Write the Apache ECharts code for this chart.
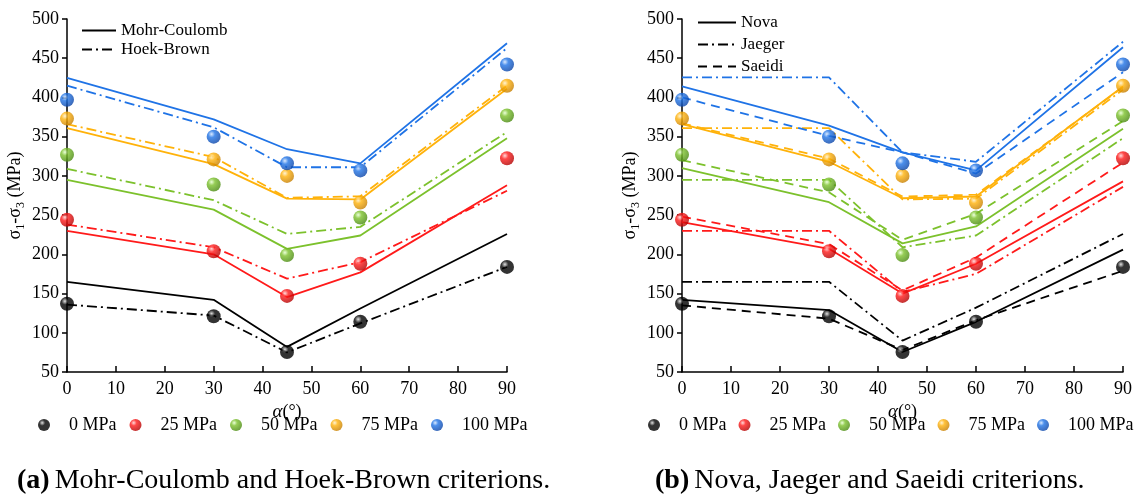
<!DOCTYPE html>
<html>
<head>
<meta charset="utf-8">
<script src="https://cdn.jsdelivr.net/npm/echarts@6/dist/echarts.min.js"></script>
<style>
html,body{margin:0;padding:0;background:#fff;}
#c{width:1138px;height:499px;}
</style>
</head>
<body>
<div id="c"></div>
<script>
// ---- data ----
const angles = [0, 30, 45, 60, 90];
const pressures = ['0 MPa', '25 MPa', '50 MPa', '75 MPa', '100 MPa'];
const yTicks = [50, 100, 150, 200, 250, 300, 350, 400, 450, 500];
const xTicks = [0, 10, 20, 30, 40, 50, 60, 70, 80, 90];

// experimental points
const exp0   = [137, 121, 75.5, 114, 184];
const exp25  = [244, 204, 147, 188, 322.5];
const exp50  = [327, 289, 199, 247, 377];
const exp75  = [373, 321, 300, 266, 415];
const exp100 = [397, 350, 316, 307, 442];

// (a) Mohr-Coulomb
const mohr0   = [165, 142, 82, 131, 226];
const mohr25  = [230, 200, 145.5, 177, 288];
const mohr50  = [295, 257, 207, 224, 348];
const mohr75  = [361, 315, 271, 270, 411];
const mohr100 = [425, 372, 334, 316, 469];

// (a) Hoek-Brown
const hoek0   = [136, 122, 75, 112, 184];
const hoek25  = [238, 209, 169, 190, 281];
const hoek50  = [309, 269, 226, 235, 356];
const hoek75  = [366, 324, 272, 274, 415];
const hoek100 = [415, 362, 311, 311, 463];

// (b) Nova
const nova0   = [142, 129, 75.5, 114, 206];
const nova25  = [241, 207, 150, 188, 293];
const nova50  = [310, 266.5, 214, 235.5, 360];
const nova75  = [366, 318, 271.5, 273.7, 414];
const nova100 = [414, 364, 330, 307, 464];

// (b) Jaeger
const jaeger0   = [165, 165, 90, 132, 226];
const jaeger25  = [230, 230, 152, 175, 286];
const jaeger50  = [295, 295, 209, 224, 348];
const jaeger75  = [361, 361, 270, 271, 410];
const jaeger100 = [425.6, 425.6, 330, 318, 471];

// (b) Saeidi
const saeidi0   = [135, 118, 78, 116, 179];
const saeidi25  = [248, 213, 154, 196, 317];
const saeidi50  = [320, 279, 218.5, 251.6, 370];
const saeidi75  = [367, 322, 273.7, 276, 413];
const saeidi100 = [400, 351, 330, 303, 432];

// ---- styling ----
const FONT = '"Liberation Serif","Times New Roman",serif';
const colors = ['#000000', '#ff1a1a', '#7cc12c', '#ffb20a', '#1f73e6'];
const darks  = ['#000000', '#b30000', '#4a8a10', '#c77f00', '#0b45a8'];
const lights = ['#d8d8d8', '#ffd0d0', '#e6ffd0', '#fff0c8', '#d0e4ff'];
const DASHDOT = [10, 4, 2, 4];
const DASHED = [9, 6];

function sphere(i) {
  return {
    type: 'radial', x: 0.35, y: 0.32, r: 0.7,
    colorStops: [
      { offset: 0, color: lights[i] },
      { offset: 0.35, color: colors[i] },
      { offset: 1, color: darks[i] }
    ]
  };
}
function pts(arr) { return angles.map((a, k) => [a, arr[k]]); }

const expAll = [exp0, exp25, exp50, exp75, exp100];
const modelsA = [
  { name: 'Mohr-Coulomb', type: 'solid', data: [mohr0, mohr25, mohr50, mohr75, mohr100] },
  { name: 'Hoek-Brown', type: DASHDOT, data: [hoek0, hoek25, hoek50, hoek75, hoek100] }
];
const modelsB = [
  { name: 'Nova', type: 'solid', data: [nova0, nova25, nova50, nova75, nova100] },
  { name: 'Jaeger', type: DASHDOT, data: [jaeger0, jaeger25, jaeger50, jaeger75, jaeger100] },
  { name: 'Saeidi', type: DASHED, data: [saeidi0, saeidi25, saeidi50, saeidi75, saeidi100] }
];

const series = [];
function addPanel(models, idx) {
  models.forEach(m => {
    series.push({
      name: m.name, type: 'line', xAxisIndex: idx, yAxisIndex: idx,
      data: [], symbol: 'none', showSymbol: false, color: '#000',
      lineStyle: { color: '#000', width: 1.8, type: m.type }
    });
  });
  models.forEach(m => {
    m.data.forEach((arr, i) => {
      series.push({
        name: m.name + '_' + i, type: 'line', xAxisIndex: idx, yAxisIndex: idx,
        data: pts(arr), symbol: 'none', z: 2, silent: true,
        lineStyle: { color: colors[i], width: 1.8, type: m.type }
      });
    });
  });
  expAll.forEach((arr, i) => {
    series.push({
      name: pressures[i], type: 'scatter', xAxisIndex: idx, yAxisIndex: idx,
      data: pts(arr), symbol: 'circle', symbolSize: 14, z: 5,
      itemStyle: { color: sphere(i) }
    });
  });
}
addPanel(modelsA, 0);
addPanel(modelsB, 1);

const yName = '{a|σ}{b|1}{a|-σ}{b|3}{a| (MPa)}';
const yNameStyle = {
  rich: {
    a: { fontFamily: FONT, fontSize: 18, color: '#000', lineHeight: 24 },
    b: { fontFamily: FONT, fontSize: 12, color: '#000', verticalAlign: 'bottom', lineHeight: 14 }
  }
};
const xName = '{i|α}{n|(°)}';
const xNameStyle = {
  rich: {
    i: { fontFamily: FONT, fontSize: 19, fontStyle: 'italic', color: '#000' },
    n: { fontFamily: FONT, fontSize: 18, color: '#000' }
  }
};

function xAxis(g) {
  return {
    type: 'value', gridIndex: g, min: xTicks[0], max: xTicks[xTicks.length - 1], interval: 10,
    name: xName, nameLocation: 'middle', nameGap: 18, nameTextStyle: xNameStyle,
    axisLine: { lineStyle: { color: '#000', width: 1.5 } },
    axisTick: { inside: true, length: 6, lineStyle: { color: '#000', width: 1.5 } },
    axisLabel: { fontFamily: FONT, fontSize: 18, color: '#000', margin: 8 },
    splitLine: { show: false }
  };
}
function yAxis(g) {
  return {
    type: 'value', gridIndex: g, min: yTicks[0], max: yTicks[yTicks.length - 1], interval: 50,
    name: yName, nameLocation: 'middle', nameGap: 40, nameRotate: 90, nameTextStyle: yNameStyle,
    axisLine: { show: true, lineStyle: { color: '#000', width: 1.5 } },
    axisTick: { show: true, inside: false, length: 5, lineStyle: { color: '#000', width: 1.5 } },
    axisLabel: { fontFamily: FONT, fontSize: 18, color: '#000', margin: 8 },
    splitLine: { show: false }
  };
}

const legendText = { fontFamily: FONT, fontSize: 17, color: '#000' };
const dotLegendText = { fontFamily: FONT, fontSize: 18, color: '#000', padding: [0, 0, 0, 13] };
const hideSym = { color: 'rgba(0,0,0,0)', borderWidth: 0 };

const captionRich = {
  b: { fontFamily: FONT, fontSize: 28, fontWeight: 'bold', color: '#000' },
  n: { fontFamily: FONT, fontSize: 28, fontWeight: 'normal', color: '#000' }
};

const option = {
  backgroundColor: '#fff',
  animation: false,
  grid: [
    { left: 67, top: 19, width: 440, height: 353 },
    { left: 682, top: 19, width: 441, height: 353 }
  ],
  xAxis: [xAxis(0), xAxis(1)],
  yAxis: [yAxis(0), yAxis(1)],
  legend: [
    { data: modelsA.map(m => m.name), orient: 'vertical', left: 76, top: 17, itemWidth: 34, itemHeight: 12, itemGap: 2, textStyle: legendText, itemStyle: hideSym, selectedMode: false },
    { data: modelsB.map(m => m.name), orient: 'vertical', left: 692, top: 9, itemWidth: 38, itemHeight: 12, itemGap: 5, textStyle: legendText, itemStyle: hideSym, selectedMode: false },
    { data: pressures, orient: 'horizontal', left: 33, top: 411, width: 560, itemWidth: 14, itemHeight: 12, itemGap: 13, textStyle: dotLegendText, selectedMode: false },
    { data: pressures, orient: 'horizontal', left: 643, top: 411, width: 560, itemWidth: 14, itemHeight: 12, itemGap: 12, textStyle: dotLegendText, selectedMode: false }
  ],
  title: [
    {
      text: '{b|(a)} {n|Mohr-Coulomb and Hoek-Brown criterions.}', left: 12, top: 462,
      textStyle: { fontWeight: 'normal', rich: captionRich }
    },
    {
      text: '{b|(b)} {n|Nova, Jaeger and Saeidi criterions.}', left: 650, top: 462,
      textStyle: { fontWeight: 'normal', rich: captionRich }
    }
  ],
  series: series
};

const chart = echarts.init(document.getElementById('c'), null, { renderer: 'canvas' });
chart.setOption(option);
</script>
</body>
</html>
